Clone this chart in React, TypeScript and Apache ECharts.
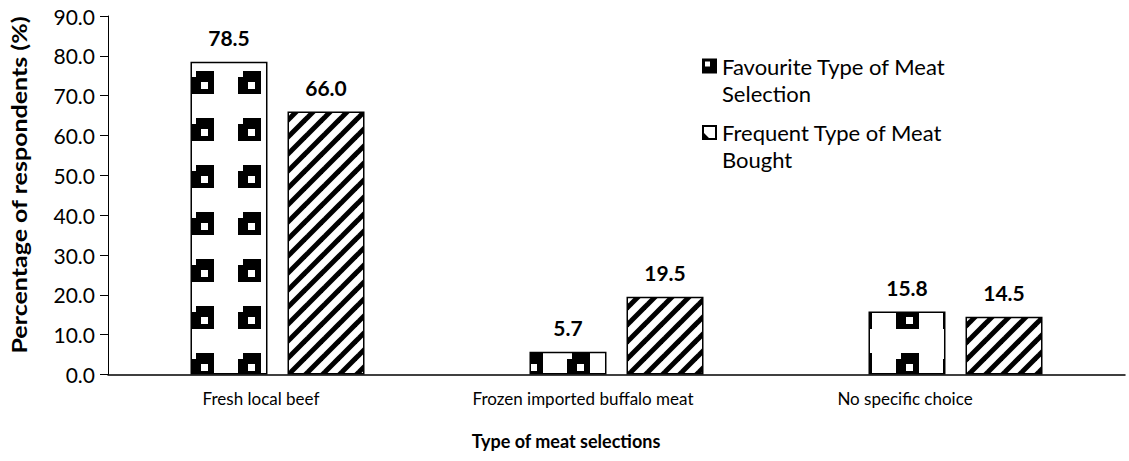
import React, { useEffect, useRef } from "react";
import * as echarts from "echarts";

const categories = ["Fresh local beef", "Frozen imported buffalo meat", "No specific choice"];
const favouriteSelection = [78.5, 5.7, 15.8];
const frequentBought = [66.0, 19.5, 14.5];
const seriesNames = ["Favourite Type of Meat\nSelection", "Frequent Type of Meat\nBought"];
const yMin = 0;
const yMax = 90;
const yStep = 10;

const FONT = "Lato, 'Noto Sans', sans-serif";

// 47px tile: one black notched square with a small white window, offset so the
// squares line up with the page grid used for the whole chart
function makeDotTile(): string {
  const n = 47;
  const c = document.createElement("canvas");
  c.width = n;
  c.height = n;
  const g = c.getContext("2d")!;
  g.fillStyle = "#fff";
  g.fillRect(0, 0, n, n);
  const ox = 3;
  const oy = 24;
  g.fillStyle = "#000";
  g.fillRect(ox, oy, 23, 23);
  g.fillStyle = "#fff";
  g.fillRect(ox, oy, 5, 6);
  g.fillRect(ox + 10, oy + 11, 7, 7);
  return c.toDataURL();
}

// 17px tile of forward diagonal stripes
function makeHatchTile(): string {
  const n = 17;
  const c = document.createElement("canvas");
  c.width = n;
  c.height = n;
  const g = c.getContext("2d")!;
  g.fillStyle = "#fff";
  g.fillRect(0, 0, n, n);
  g.strokeStyle = "#000";
  g.lineWidth = 5;
  for (let k = -1; k <= 1; k++) {
    g.beginPath();
    g.moveTo(k * n - 2, n + 2);
    g.lineTo(k * n + n + 2, -2);
    g.stroke();
  }
  return c.toDataURL();
}

function legendBlock(name: string, icon: string, top: number) {
  return {
    orient: "vertical",
    left: 702,
    top,
    padding: 0,
    itemWidth: 15,
    itemHeight: 15,
    formatter: (n: string) => "\n" + n,
    textStyle: {
      fontFamily: FONT,
      fontSize: 22,
      lineHeight: 27,
      color: "#000",
    },
    data: [{ name, icon, itemStyle: { color: "#000", borderWidth: 0 } }],
  };
}

export default function App() {
  const ref = useRef<HTMLDivElement>(null);

  useEffect(() => {
    if (!ref.current) return;
    const chart = echarts.init(ref.current, null, { renderer: "svg" });

    const dotFill = {
      image: makeDotTile(),
      repeat: "repeat",
      imageWidth: 47,
      imageHeight: 47,
    };
    const hatchFill = {
      image: makeHatchTile(),
      repeat: "repeat",
      imageWidth: 17,
      imageHeight: 17,
    };

    const barLabel = {
      show: true,
      position: "top",
      distance: 14,
      fontFamily: FONT,
      fontSize: 21,
      fontWeight: "bold",
      color: "#000",
      formatter: (p: any) => Number(p.value).toFixed(1),
    };

    chart.setOption({
      animation: false,
      backgroundColor: "#fff",
      grid: [
        { left: 108, right: 4, top: 16, bottom: 86.5, containLabel: false },
        { left: 100, right: 63, top: 16, bottom: 86.5, containLabel: false },
      ],
      xAxis: [
        {
          type: "category",
          gridIndex: 0,
          data: categories,
          axisLine: { show: true, lineStyle: { color: "#000", width: 1.5 } },
          axisTick: { show: false },
          axisLabel: { show: false },
        },
        {
          type: "category",
          gridIndex: 1,
          data: categories,
          axisLine: { show: false },
          axisTick: { show: false },
          axisLabel: {
            show: true,
            margin: 15,
            fontFamily: FONT,
            fontSize: 17,
            color: "#000",
          },
        },
      ],
      yAxis: [
        {
          type: "value",
          gridIndex: 0,
          min: yMin,
          max: yMax,
          interval: yStep,
          splitLine: { show: false },
          axisLine: { show: true, lineStyle: { color: "#000", width: 1 } },
          axisTick: { show: true, length: 8, inside: false, lineStyle: { color: "#000" } },
          axisLabel: {
            margin: 13,
            fontFamily: FONT,
            fontSize: 21,
            color: "#000",
            formatter: (v: number) => v.toFixed(1),
          },
        },
        {
          type: "value",
          gridIndex: 1,
          show: false,
          min: yMin,
          max: yMax,
        },
      ],
      legend: [
        legendBlock(seriesNames[0], "path://M0 0L15 0L15 15L0 15Z M3 3L3 8L8 8L8 3Z", 25.5),
        legendBlock(seriesNames[1], "path://M0 0L15 0L15 15L0 15Z M2 2L2 8L7 13L13 13L13 2Z", 92),
      ],
      graphic: [
        {
          type: "text",
          x: 19,
          y: 185,
          rotation: Math.PI / 2,
          scaleX: 1.25,
          style: {
            text: "Percentage of respondents (%)",
            align: "center",
            verticalAlign: "middle",
            fontFamily: FONT,
            fontSize: 20,
            fontWeight: "bold",
            fill: "#000",
          },
        },
        {
          type: "text",
          x: 566,
          y: 441,
          style: {
            text: "Type of meat selections",
            align: "center",
            verticalAlign: "middle",
            fontFamily: FONT,
            fontSize: 18,
            fontWeight: "bold",
            fill: "#000",
          },
        },
      ],
      series: [
        {
          name: seriesNames[0],
          type: "bar",
          xAxisIndex: 0,
          yAxisIndex: 0,
          data: favouriteSelection,
          barWidth: 77,
          barGap: "26%",
          itemStyle: { color: dotFill, borderColor: "#000", borderWidth: 1.5 },
          label: barLabel,
        },
        {
          name: seriesNames[1],
          type: "bar",
          xAxisIndex: 0,
          yAxisIndex: 0,
          data: frequentBought,
          barWidth: 77,
          barGap: "26%",
          itemStyle: { color: hatchFill, borderColor: "#000", borderWidth: 1.5 },
          label: barLabel,
        },
      ],
    });

    return () => chart.dispose();
  }, []);

  return (
    <div
      ref={ref}
      style={{ position: "fixed", left: 0, top: 0, width: 1129, height: 461, background: "#fff" }}
    />
  );
}
